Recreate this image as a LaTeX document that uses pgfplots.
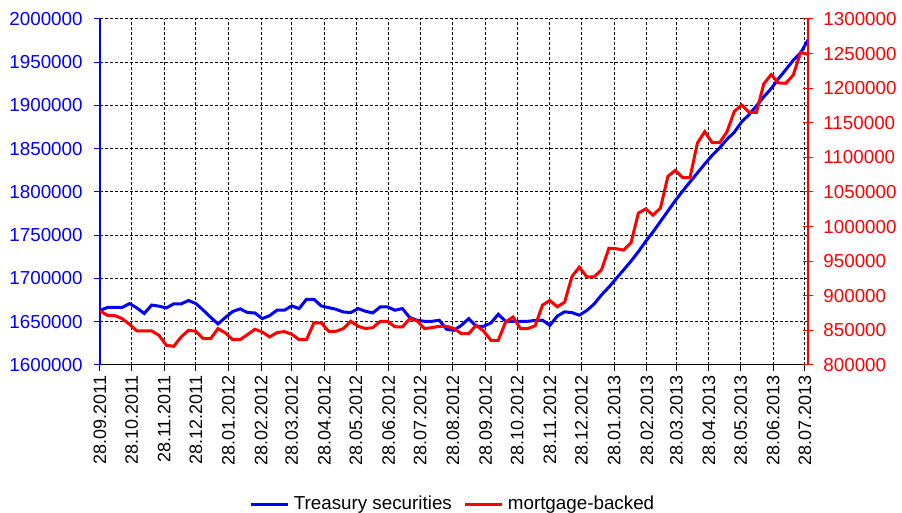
\documentclass[border=0pt]{standalone}
\usepackage{pgfplots}
\usepackage{pgfplotstable}
\pgfplotsset{compat=1.18}
\usepackage{fontspec}
\setmainfont{Liberation Sans}
\pgfplotstableread{
day blue red
0 1663000 878100
7 1666500 871800
14 1666500 871400
21 1666500 867000
28 1671000 858800
35 1666000 849200
42 1659500 849200
49 1669300 849200
56 1668000 842900
63 1666000 828400
70 1670700 827000
77 1670700 840500
84 1674500 850100
91 1671000 848700
98 1663400 838100
105 1655200 838100
112 1647500 852600
119 1654900 846300
126 1661800 836600
133 1664900 836600
140 1660600 843900
147 1660200 851600
154 1653600 847700
161 1657100 840500
168 1663300 846800
175 1663300 848200
182 1668300 844400
189 1665200 836600
196 1676000 836600
203 1676000 860800
210 1668300 860800
217 1666300 848700
224 1664400 848700
231 1661300 852600
238 1660600 863200
245 1665200 855900
252 1662100 852600
259 1660200 854000
266 1667100 863200
273 1667100 863200
280 1663300 855000
287 1665200 855000
294 1654800 867000
301 1651700 863700
308 1650500 852600
315 1650500 854000
322 1651700 855900
329 1641300 855900
336 1640100 852600
343 1645900 845300
350 1653600 845300
357 1644700 857400
364 1644700 849200
371 1648600 835700
378 1658600 835700
385 1650500 862200
392 1650500 869400
399 1650300 852700
406 1650500 852700
413 1651500 856600
420 1651800 886500
427 1645800 893200
434 1656500 884000
441 1661500 890800
448 1660500 928100
455 1657600 941400
462 1663000 927400
469 1670500 927400
476 1681000 937500
483 1690000 968700
490 1700000 968000
497 1710000 966000
504 1720000 976500
511 1731000 1019600
518 1743000 1025500
525 1754000 1016500
532 1766000 1027000
539 1778000 1072500
546 1790000 1081200
553 1801000 1070800
560 1811600 1070600
567 1822000 1120700
574 1832400 1137200
581 1842400 1121400
588 1850900 1121200
595 1860900 1136700
602 1869000 1166300
609 1881000 1175700
616 1889400 1165300
623 1899500 1164800
630 1909900 1206300
637 1919500 1219600
644 1931100 1207600
651 1941500 1207100
658 1952300 1219100
665 1960800 1251600
672 1975800 1249000
}\datatable
\definecolor{pblue}{RGB}{0,0,255}
\definecolor{pred}{RGB}{255,0,0}
\begin{document}
\fontsize{9.4}{11}\selectfont
\begin{tikzpicture}
\path[use as bounding box] (0,0) rectangle (451pt,256.5pt);
\pgfplotsset{
  base/.style={
    scale only axis, width=354pt, height=173pt,
    at={(50pt,74pt)}, anchor=south west,
    xmin=0, xmax=672,
    /pgf/number format/assume math mode=true,
    /pgf/number format/1000 sep={},
    /pgf/number format/fixed,
    tick label style={font=\fontsize{9.4}{11}\selectfont},
  }
}
\begin{axis}[base,
  ymin=1600000, ymax=2000000,
  ytick={1600000,1650000,1700000,1750000,1800000,1850000,1900000,1950000,2000000},
  scaled y ticks=false,
  axis y line*=left, axis x line*=bottom,
  y axis line style={pblue, line width=0.75pt, -},
  x axis line style={black, line width=0.5pt, -},
  ytick style={pblue, line width=0.5pt},
  xtick style={black, line width=0.5pt},
  tick align=outside, major tick length=3pt,
  yticklabel style={pblue, inner xsep=0pt, xshift=-5.5pt},
  xtick={0,30,61,91,122,153,182,213,243,274,304,335,366,396,427,457,488,519,547,578,608,639,669},
  xticklabels={28.09.2011,28.10.2011,28.11.2011,28.12.2011,28.01.2012,28.02.2012,28.03.2012,28.04.2012,28.05.2012,28.06.2012,28.07.2012,28.08.2012,28.09.2012,28.10.2012,28.11.2012,28.12.2012,28.01.2013,28.02.2013,28.03.2013,28.04.2013,28.05.2013,28.06.2013,28.07.2013},
  xticklabel style={rotate=90, anchor=east, inner xsep=2pt, font=\fontsize{9}{11}\selectfont, black},
  grid=major,
  major grid style={black, line width=0.5pt, dash pattern=on 1.5pt off 1pt},
  legend columns=2,
  legend style={draw=none, fill=none, at={(0.5,-0.402)}, anchor=center,
    font=\fontsize{9.4}{11}\selectfont, inner sep=0pt,
    /tikz/every even column/.append style={column sep=4pt},
    nodes={inner xsep=2pt}},
  legend image code/.code={\draw[#1] (0pt,0pt) -- (18.5pt,0pt);},
]
\addplot[pblue, line width=1.5pt] table[x=day, y=blue] {\datatable};
\addlegendentry{Treasury securities}
\addlegendimage{pred, line width=1.5pt}
\addlegendentry{mortgage-backed}
\end{axis}
\begin{axis}[base,
  ymin=800000, ymax=1300000,
  ytick={800000,850000,900000,950000,1000000,1050000,1100000,1150000,1200000,1250000,1300000},
  scaled y ticks=false,
  axis y line*=right, axis x line=none,
  y axis line style={pred, line width=0.75pt, -},
  ytick style={pred, line width=0.5pt},
  tick align=center, major tick length=5pt,
  yticklabel style={pred, inner xsep=0pt, xshift=5pt},
]
\addplot[pred, line width=1.5pt] table[x=day, y=red] {\datatable};
\end{axis}
\end{tikzpicture}
\end{document}
